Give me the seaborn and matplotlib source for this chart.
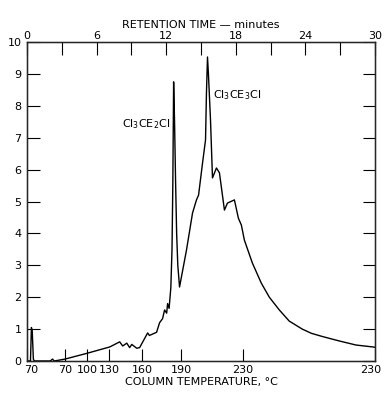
import numpy as np
import pandas as pd
import matplotlib
matplotlib.use("Agg")
import matplotlib.pyplot as plt
import matplotlib.transforms as mtransforms
import seaborn as sns

# retention time (minutes) and detector response
time_min = [0.0, 0.30, 0.38, 0.45, 0.55, 0.65, 2.0, 2.2, 2.35, 3.27, 5.16, 7.13,
            7.99, 8.25, 8.6, 8.85, 9.03, 9.46, 9.71, 10.4, 10.55, 11.17, 11.43,
            11.69, 11.86, 12.04, 12.12, 12.25, 12.4, 12.5, 12.57, 12.64, 12.72,
            12.81, 12.9, 13.0, 13.15, 13.75, 14.27, 14.61, 14.79, 15.13, 15.39,
            15.47, 15.56, 15.64, 15.82, 15.99, 16.33, 16.59, 17.02, 17.28, 17.88,
            18.22, 18.48, 18.74, 19.43, 20.2, 20.89, 21.75, 22.61, 23.73, 24.5,
            25.44, 26.9, 28.37, 29.83, 30.0]
response = [0.0, 0.0, 1.05, 0.95, 0.05, 0.0, 0.0, 0.06, 0.0, 0.06, 0.24, 0.44,
            0.6, 0.47, 0.56, 0.42, 0.52, 0.4, 0.42, 0.88, 0.8, 0.9, 1.2,
            1.33, 1.6, 1.5, 1.8, 1.65, 2.3, 3.5, 5.5, 8.75, 7.5,
            5.6, 4.0, 3.0, 2.32, 3.48, 4.64, 5.05, 5.2, 6.2, 6.93,
            8.4, 9.53, 9.0, 7.55, 5.74, 6.05, 5.9, 4.73, 4.95, 5.05,
            4.48, 4.26, 3.79, 3.07, 2.44, 2.0, 1.6, 1.25, 1.0, 0.87,
            0.77, 0.63, 0.5, 0.44, 0.43]

# column temperature scale (bottom axis) placed at retention times
temp_pos = [0, 3.3, 5.2, 7.1, 9.9, 13.3, 18.6, 30]
temp_labels = ["70", "70", "100", "130", "160", "190", "230", "230"]

time_ticks = list(range(0, 31, 3))
time_labels = [str(t) if t % 6 == 0 else "" for t in time_ticks]

df = pd.DataFrame({"time": time_min, "response": response})

sns.set_style("ticks")
plt.rcParams["font.family"] = ["DejaVu Sans"]
plt.rcParams["text.color"] = "black"
plt.rcParams["xtick.color"] = "black"
plt.rcParams["ytick.color"] = "black"
plt.rcParams["axes.labelcolor"] = "black"

fig = plt.figure(figsize=(3.84, 3.95), dpi=100)
ax = fig.add_axes([27 / 384, 1 - 361 / 395, 348 / 384, 319 / 395])

sns.lineplot(data=df, x="time", y="response", color="black", linewidth=1.0,
             estimator=None, ax=ax)

ax.set_xlim(0, 30)
ax.set_ylim(0, 10)
for s in ax.spines.values():
    s.set_visible(True)
    s.set_linewidth(1.0)
    s.set_color("black")

# bottom: temperature
ax.set_xticks(temp_pos)
ax.set_xticklabels(temp_labels, fontsize=8)
ax.set_xlabel("COLUMN TEMPERATURE, °C", fontsize=8, labelpad=1)
ax.tick_params(axis="x", direction="in", length=9, width=0.8, pad=3)
# nudge the end labels so they stay on the page
shift_left = mtransforms.ScaledTranslation(-4 / 100, 0, fig.dpi_scale_trans)
shift_right = mtransforms.ScaledTranslation(4 / 100, 0, fig.dpi_scale_trans)
xl = ax.get_xticklabels()
xl[-1].set_transform(xl[-1].get_transform() + shift_left)
xl[0].set_transform(xl[0].get_transform() + shift_right)

# left / right: response
ax.set_yticks(range(0, 11))
ax.set_yticklabels([str(i) for i in range(0, 11)], fontsize=8)
ax.set_ylabel("")
ax.tick_params(axis="y", direction="in", length=9, width=0.8, pad=4,
               right=True)

# top: retention time
top = ax.twiny()
top.set_xlim(0, 30)
top.set_xticks(time_ticks)
top.set_xticklabels(time_labels, fontsize=8)
top.tick_params(axis="x", direction="in", length=9, width=0.8, pad=1)
top.set_xlabel("RETENTION TIME \u2014 minutes", fontsize=8, labelpad=2)

ax.text(12.35, 7.43, "Cl$_3$CE$_2$Cl", fontsize=8, ha="right", va="center")
ax.text(16.0, 8.34, "Cl$_3$CE$_3$Cl", fontsize=8, ha="left", va="center")

plt.savefig("out.png", dpi=100)
